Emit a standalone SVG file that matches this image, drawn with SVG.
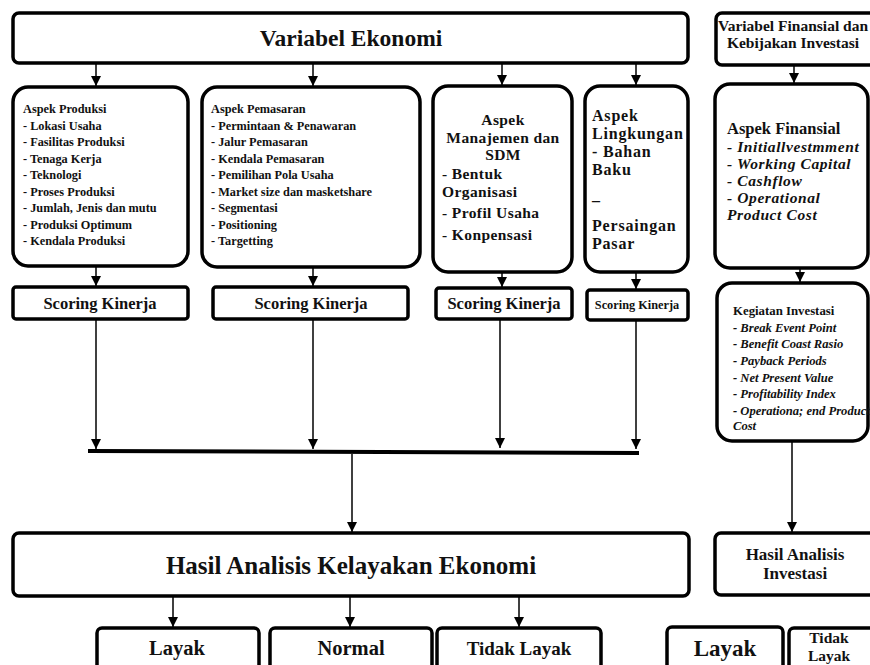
<svg xmlns="http://www.w3.org/2000/svg" width="870" height="665" viewBox="0 0 870 665">
  <defs>
    <marker id="arrow" markerUnits="userSpaceOnUse" markerWidth="12" markerHeight="12" refX="10" refY="5" orient="auto">
      <path d="M0,0 L10,5 L0,10 Z" fill="#000"/>
    </marker>
    <style>
      text { font-family: "Liberation Serif", "Times New Roman", serif; font-weight: bold; fill: #111; }
      .box { fill: #fff; stroke: #000; stroke-width: 3.5; }
      .conn { stroke: #000; stroke-width: 1.5; fill: none; marker-end: url(#arrow); }
      .c { text-anchor: middle; }
      .it { font-style: italic; }
      .t25 { font-size: 25px; }
      .t23 { font-size: 23.5px; }
      .t20 { font-size: 20.5px; }
      .t17 { font-size: 17px; }
      .mgmt { font-size: 15.5px; letter-spacing: 0.4px; }
      .env { font-size: 16px; letter-spacing: 0.8px; }
      .fin { font-size: 15.5px; letter-spacing: 0.6px; }
      .t15 { font-size: 16.5px; }
      .t13 { font-size: 12.8px; }
      .t12 { font-size: 12.3px; }
      .ti { font-size: 12.6px; }
    </style>
  </defs>
  <rect width="870" height="665" fill="#fff"/>

  <!-- top level -->
  <g id="variabel-ekonomi">
    <rect class="box" x="13" y="13" width="675" height="50" rx="6"/>
    <text class="t23 c" x="351" y="46">Variabel Ekonomi</text>
  </g>
  <g id="variabel-finansial">
    <rect class="box" x="716" y="13" width="170" height="52" rx="6"/>
    <text class="c" style="font-size:15.5px" x="793" y="30.5">Variabel Finansial dan</text>
    <text class="c" style="font-size:15.5px" x="793" y="48">Kebijakan Investasi</text>
  </g>

  <!-- aspect boxes -->
  <g id="aspek-produksi">
    <rect class="box" x="13" y="87" width="175" height="179" rx="15"/>
    <text class="t12" x="23" y="113">Aspek Produksi</text>
    <text class="t12" x="23" y="130">- Lokasi Usaha</text>
    <text class="t12" x="23" y="146">- Fasilitas Produksi</text>
    <text class="t12" x="23" y="163">- Tenaga Kerja</text>
    <text class="t12" x="23" y="179">- Teknologi</text>
    <text class="t12" x="23" y="196">- Proses Produksi</text>
    <text class="t12" x="23" y="212">- Jumlah, Jenis dan mutu</text>
    <text class="t12" x="23" y="229">- Produksi Optimum</text>
    <text class="t12" x="23" y="245">- Kendala Produksi</text>
  </g>
  <g id="aspek-pemasaran">
    <rect class="box" x="202" y="87" width="218" height="180" rx="15"/>
    <text class="t12" x="211" y="113">Aspek Pemasaran</text>
    <text class="t12" x="211" y="130">- Permintaan &amp; Penawaran</text>
    <text class="t12" x="211" y="146">- Jalur Pemasaran</text>
    <text class="t12" x="211" y="163">- Kendala Pemasaran</text>
    <text class="t12" x="211" y="179">- Pemilihan Pola Usaha</text>
    <text class="t12" x="211" y="196">- Market size dan masketshare</text>
    <text class="t12" x="211" y="212">- Segmentasi</text>
    <text class="t12" x="211" y="229">- Positioning</text>
    <text class="t12" x="211" y="245">- Targetting</text>
  </g>
  <g id="aspek-manajemen">
    <rect class="box" x="433" y="86" width="139" height="186" rx="15"/>
    <text class="mgmt c" x="503" y="125">Aspek</text>
    <text class="mgmt c" x="503" y="142.5">Manajemen dan</text>
    <text class="mgmt c" x="503" y="160">SDM</text>
    <text class="mgmt" x="442" y="179">- Bentuk</text>
    <text class="mgmt" x="442" y="196.5">Organisasi</text>
    <text class="mgmt" x="442" y="218">- Profil Usaha</text>
    <text class="mgmt" x="442" y="240">- Konpensasi</text>
  </g>
  <g id="aspek-lingkungan">
    <rect class="box" x="585" y="86" width="103" height="186" rx="15"/>
    <text class="env" x="592" y="121">Aspek</text>
    <text class="env" x="592" y="139">Lingkungan</text>
    <text class="env" x="592" y="157">- Bahan</text>
    <text class="env" x="592" y="175">Baku</text>
    <text class="env" x="592" y="206">–</text>
    <text class="env" x="592" y="231">Persaingan</text>
    <text class="env" x="592" y="249">Pasar</text>
  </g>
  <g id="aspek-finansial">
    <rect class="box" x="715" y="84" width="153" height="184" rx="15"/>
    <text class="t15" x="727" y="134">Aspek Finansial</text>
    <text class="fin it" x="727" y="151.5">- Initiallvestmment</text>
    <text class="fin it" x="727" y="168.7">- Working Capital</text>
    <text class="fin it" x="727" y="185.9">- Cashflow</text>
    <text class="fin it" x="727" y="203.1">- Operational</text>
    <text class="fin it" x="727" y="220.3">Product Cost</text>
  </g>

  <!-- scoring boxes -->
  <g id="scoring-produksi">
    <rect class="box" x="13" y="287" width="175" height="32" rx="3"/>
    <text class="t15 c" x="100" y="309">Scoring Kinerja</text>
  </g>
  <g id="scoring-pemasaran">
    <rect class="box" x="213" y="287" width="195" height="32" rx="3"/>
    <text class="t15 c" x="311" y="309">Scoring Kinerja</text>
  </g>
  <g id="scoring-manajemen">
    <rect class="box" x="436" y="288" width="136" height="31" rx="3"/>
    <text class="t15 c" x="504" y="309">Scoring Kinerja</text>
  </g>
  <g id="scoring-lingkungan">
    <rect class="box" x="587" y="290" width="101" height="30" rx="3"/>
    <text class="t12 c" x="637" y="309">Scoring Kinerja</text>
  </g>
  <g id="kegiatan-investasi">
    <rect class="box" x="717" y="283" width="151" height="158" rx="15"/>
    <text class="t13" x="733" y="315">Kegiatan Investasi</text>
    <text class="ti it" x="733" y="332">- Break Event Point</text>
    <text class="ti it" x="733" y="348">- Benefit Coast Rasio</text>
    <text class="ti it" x="733" y="365">- Payback Periods</text>
    <text class="ti it" x="733" y="382">- Net Present Value</text>
    <text class="ti it" x="733" y="398">- Profitability Index</text>
    <text class="ti it" x="733" y="415">- Operationa; end Product</text>
    <text class="ti it" x="733" y="430">Cost</text>
  </g>

  <!-- results -->
  <g id="hasil-ekonomi">
    <rect class="box" x="13" y="533" width="676" height="63" rx="6"/>
    <text class="t25 c" x="351" y="574">Hasil Analisis Kelayakan Ekonomi</text>
  </g>
  <g id="hasil-investasi">
    <rect class="box" x="715" y="533" width="170" height="62" rx="6"/>
    <text class="t17 c" x="795" y="559.5">Hasil Analisis</text>
    <text class="t17 c" x="795" y="578.5">Investasi</text>
  </g>
  <g id="layak">
    <rect class="box" x="97" y="628" width="162" height="50" rx="5"/>
    <text class="t20 c" x="177" y="655">Layak</text>
  </g>
  <g id="normal">
    <rect class="box" x="270" y="628" width="162" height="50" rx="5"/>
    <text class="t20 c" x="351" y="655">Normal</text>
  </g>
  <g id="tidak-layak">
    <rect class="box" x="437" y="628" width="164" height="50" rx="5"/>
    <text class="c" style="font-size:19px" x="519" y="655">Tidak Layak</text>
  </g>
  <g id="investasi-layak">
    <rect class="box" x="667" y="627" width="116" height="50" rx="5"/>
    <text class="c" style="font-size:23px" x="725" y="656">Layak</text>
  </g>
  <g id="investasi-tidak-layak">
    <rect class="box" x="789" y="628" width="100" height="50" rx="5"/>
    <text class="c" style="font-size:15.5px" x="829" y="643">Tidak</text>
    <text class="c" style="font-size:15.5px" x="829" y="660.5">Layak</text>
  </g>

  <!-- connectors -->
  <g id="connectors">
    <line class="conn" x1="96" y1="64" x2="96" y2="86"/>
    <line class="conn" x1="313" y1="64" x2="313" y2="86"/>
    <line class="conn" x1="502" y1="64" x2="502" y2="85"/>
    <line class="conn" x1="636" y1="64" x2="636" y2="85"/>
    <line class="conn" x1="794" y1="66" x2="794" y2="83"/>

    <line class="conn" x1="96" y1="267" x2="96" y2="286"/>
    <line class="conn" x1="313" y1="268" x2="313" y2="286"/>
    <line class="conn" x1="502" y1="273" x2="502" y2="287"/>
    <line class="conn" x1="636" y1="273" x2="636" y2="289"/>
    <line class="conn" x1="800" y1="269" x2="800" y2="282"/>

    <line class="conn" x1="96" y1="320" x2="96" y2="449"/>
    <line class="conn" x1="313" y1="320" x2="313" y2="449"/>
    <line class="conn" x1="500" y1="320" x2="500" y2="448"/>
    <line class="conn" x1="636" y1="321" x2="636" y2="449"/>

    <line x1="88" y1="451" x2="639" y2="453" stroke="#000" stroke-width="4"/>

    <line class="conn" x1="352" y1="454" x2="352" y2="532"/>
    <line class="conn" x1="792" y1="442" x2="792" y2="532"/>

    <line class="conn" x1="173" y1="597" x2="173" y2="627"/>
    <line class="conn" x1="350" y1="597" x2="350" y2="627"/>
    <line class="conn" x1="519" y1="597" x2="519" y2="627"/>
  </g>
</svg>
